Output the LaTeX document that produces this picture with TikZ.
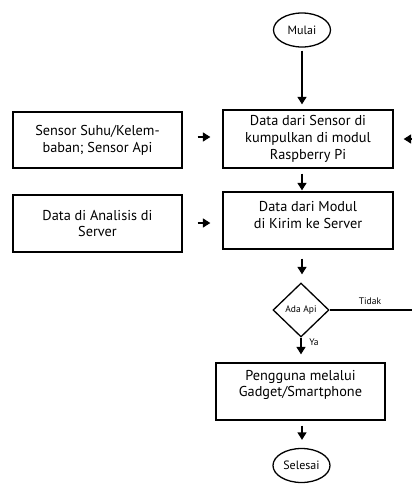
\documentclass[tikz,border=0pt]{standalone}
\usepackage{fontspec}
\setmainfont{PT Sans}
\usetikzlibrary{shapes.geometric,arrows.meta}
\tikzset{
  box/.style={draw, line width=1.3pt, rectangle, minimum width=169pt, minimum height=57pt, inner sep=0pt},
  term/.style={draw, line width=1.3pt, ellipse, minimum width=57pt, minimum height=34pt, inner sep=0pt, font=\fontsize{12}{14}\selectfont},
  decide/.style={draw, line width=1.3pt, diamond, minimum width=56pt, minimum height=54pt, inner sep=0pt, font=\fontsize{9.5}{11}\selectfont},
  txt/.style={align=center, font=\fontsize{14.3}{16.8}\selectfont, inner sep=0pt},
  small/.style={font=\fontsize{9.5}{11}\selectfont, inner sep=0pt},
  arr/.style={line width=1.5pt, -{Triangle[width=9pt,length=7.5pt]}},
}
\begin{document}
\begin{tikzpicture}[x=1pt, y=-1pt]
\useasboundingbox (0,0) rectangle (412,488);

% start / end terminals
\node[term] (mulai) at (302,30) {Mulai};
\node[term] (selesai) at (301.5,465.5) {Selesai};

% main process column
\node[box, minimum width=170pt, minimum height=58pt] (b1) at (308,139) {};
\node[txt] (b1t) at (b1.center) {Data dari Sensor di\\kumpulkan di modul\\Raspberry Pi};
\node[box, minimum width=170pt] (b2) at (308,220.5) {};
\node[txt] (b2t) at (308,215) {Data dari Modul\\di Kirim ke Server};
\node[decide] (dec) at (301,310) {Ada Api};
\node[box] (b3) at (300.5,391.5) {};
\node[txt] (b3t) at (300.5,385) {Pengguna melalui\\Gadget/Smartphone};

% side inputs
\node[box, minimum height=56pt] (s1) at (97.5,140) {};
\node[txt] (s1t) at (s1.center) {Sensor Suhu/Kelem-\\baban; Sensor Api};
\node[box] (s2) at (97.5,223.5) {};
\node[txt] (s2t) at (s2.center) {Data di Analisis di\\Server};

% feedback line leaving the frame on the right
\coordinate (fr) at (430,310);
\coordinate (fb) at (430,139);

% connectors
\draw[arr, shorten <=3pt, shorten >=5pt] (mulai.south) -- (mulai.south |- b1.north);
\draw[arr, shorten <=5pt, shorten >=1pt] (b1.south -| mulai) -- (b2.north -| mulai);
\draw[arr, shorten <=9pt, shorten >=8pt] (b2.south -| mulai) -- (dec.north -| mulai);
\draw[arr, shorten >=8pt] (dec.south) -- (dec.south |- b3.north);
\draw[arr, shorten <=5pt, shorten >=8pt] (b3.south -| mulai) -- (selesai.north -| mulai);

\draw[arr, shorten <=15pt, shorten >=12pt] (s1.east |- 0,137) -- (b1.west |- 0,137);
\draw[arr, shorten <=15pt, shorten >=12pt] (s2.east |- 0,223) -- (b2.west |- 0,223);
\draw[arr, shorten >=10pt] (fb) -- (b1.east);

\draw[line width=1.3pt] (dec.east) -- (fr);

% branch labels
\node[small] (tidak) at (370,301) {Tidak};
\node[small] (ya) at (314,342) {Ya};
\end{tikzpicture}
\end{document}
